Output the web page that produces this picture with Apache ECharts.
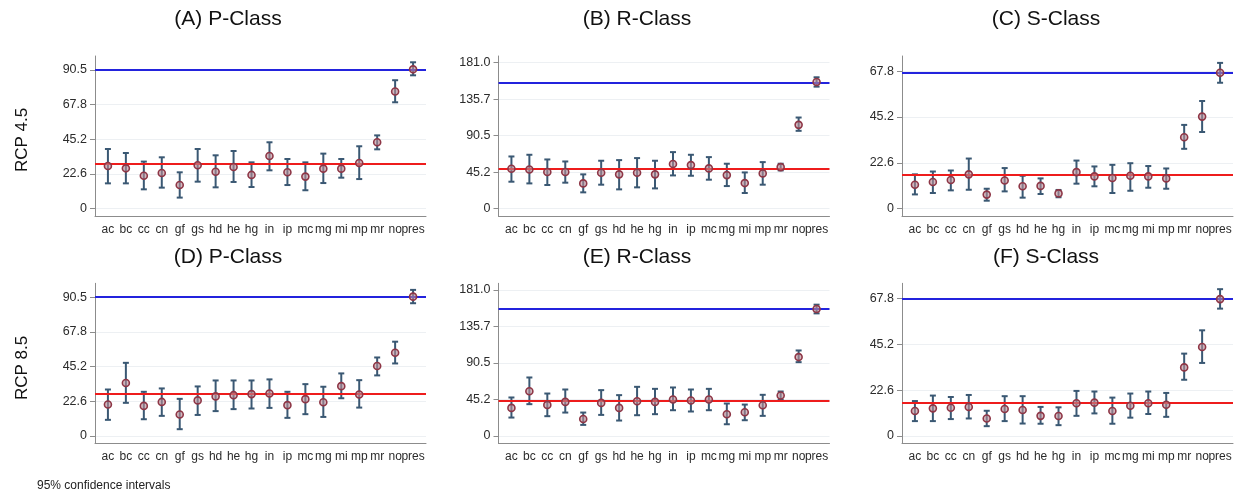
<!DOCTYPE html>
<html>
<head>
<meta charset="utf-8">
<script src="https://cdn.jsdelivr.net/npm/echarts@6/dist/echarts.min.js"></script>
<style>
  html, body { margin: 0; padding: 0; background: #ffffff; }
  #chart { width: 1241px; height: 493px; }
</style>
</head>
<body>
<div id="chart"></div>
<script>
// ---------------- DATA ----------------
const categories = ['ac','bc','cc','cn','gf','gs','hd','he','hg','in','ip','mc','mg','mi','mp','mr','no','pres'];

// Tick values / labels per class
const ticksP = [0, 22.6, 45.2, 67.8, 90.5];
const ticksR = [0, 45.2, 90.5, 135.7, 181.0];
const ticksS = [0, 22.6, 45.2, 67.8];

// (A) P-Class, RCP 4.5
const aMean = [27.8, 26.3, 21.5, 23.3, 15.4, 28.3, 24.1, 27.2, 22.0, 34.3, 23.7, 20.9, 26.1, 26.1, 29.8, 43.3, 76.4, 90.9];
const aLo   = [16.5, 16.5, 12.6, 13.7,  7.2, 17.6, 13.9, 17.4, 14.1, 25.0, 15.4, 12.0, 16.7, 20.2, 19.3, 38.7, 69.4, 87.0];
const aHi   = [38.9, 36.3, 30.7, 33.5, 23.7, 38.9, 34.8, 37.6, 30.2, 43.3, 32.4, 30.2, 35.9, 32.4, 40.7, 47.8, 83.8, 95.5];
const aRef  = [29.6, 90.5]; // red, blue

// (B) R-Class, RCP 4.5
const bMean = [49.5, 48.6, 45.4, 45.4, 31.3, 44.5, 42.5, 44.5, 42.5, 55.3, 54.0, 49.9, 41.6, 31.7, 43.7, 51.5, 103.9, 157.1];
const bLo   = [33.4, 31.3, 29.3, 32.2, 20.2, 29.7, 23.9, 26.4, 25.1, 41.2, 40.8, 35.9, 28.0, 19.4, 29.7, 47.4,  96.5, 151.3];
const bHi   = [64.7, 66.8, 61.0, 58.5, 42.5, 59.4, 60.2, 62.7, 59.4, 70.1, 66.8, 63.9, 55.7, 44.9, 57.7, 55.7, 113.0, 162.9];
const bRef  = [49.1, 156.5];

// (C) S-Class, RCP 4.5
const cMean = [11.8, 13.1, 14.1, 16.9, 6.9, 13.9, 11.0, 11.2, 7.5, 18.0, 15.9, 15.1, 16.2, 15.9, 14.9, 35.2, 45.4, 67.0];
const cLo   = [ 7.0,  7.7,  9.0,  9.3, 3.9,  8.5,  5.4,  7.2, 5.6, 12.3, 11.0,  7.7,  8.8, 10.3,  9.8, 29.5, 37.8, 62.1];
const cHi   = [16.9, 18.3, 18.8, 24.7, 9.8, 20.0, 16.2, 14.9, 9.2, 23.7, 20.8, 21.6, 22.4, 21.0, 19.8, 41.3, 53.1, 71.9];
const cRef  = [16.9, 67.0];

// (D) P-Class, RCP 8.5
const dMean = [20.5, 34.5, 19.6, 22.2, 14.0, 23.2, 25.8, 26.6, 27.3, 27.7, 20.1, 24.0, 22.0, 32.5, 27.0, 45.6, 54.3, 90.9];
const dLo   = [10.5, 21.6, 10.9, 13.1,  4.4, 13.7, 16.2, 17.5, 17.9, 18.3, 11.8, 14.2, 12.4, 24.6, 18.5, 39.5, 47.3, 86.6];
const dHi   = [30.3, 47.7, 28.8, 31.0, 24.2, 32.3, 36.2, 36.2, 36.2, 36.9, 28.8, 33.8, 32.1, 40.8, 36.4, 51.2, 61.5, 95.3];
const dRef  = [27.7, 90.9];

// (E) R-Class, RCP 8.5
const eMean = [34.8, 55.5, 38.5, 42.2, 21.1, 41.0, 34.8, 43.1, 42.2, 45.2, 44.0, 45.2, 26.9, 29.4, 38.1, 50.1,  97.8, 157.4];
const eLo   = [22.8, 39.4, 24.5, 29.0, 13.7, 26.1, 19.1, 25.7, 27.0, 31.9, 30.3, 31.9, 14.5, 19.5, 24.9, 44.7,  91.5, 152.0];
const eHi   = [47.7, 72.5, 52.6, 57.6, 29.0, 56.8, 50.6, 60.9, 58.4, 60.1, 57.6, 58.4, 40.2, 38.9, 51.0, 55.1, 106.0, 162.8];
const eRef  = [43.3, 157.4];

// (F) S-Class, RCP 8.5
const fMean = [12.3, 13.6, 13.9, 14.3,  8.6, 13.3, 12.8,  9.9,  9.8, 16.1, 16.4, 12.3, 14.9, 16.1, 15.4, 33.8, 43.9, 67.5];
const fLo   = [ 7.3,  7.3,  8.3,  8.6,  4.8,  7.3,  6.1,  6.0,  5.3,  9.9, 11.1,  6.0,  9.0, 10.8,  9.4, 27.7, 36.0, 62.8];
const fHi   = [17.2, 19.9, 19.2, 20.2, 12.4, 19.6, 19.6, 14.3, 14.1, 22.2, 21.9, 18.9, 20.9, 21.9, 21.2, 40.6, 52.1, 72.4];
const fRef  = [16.4, 67.5];

const titles = ['(A) P-Class', '(B) R-Class', '(C) S-Class', '(D) P-Class', '(E) R-Class', '(F) S-Class'];
const rowLabels = ['RCP 4.5', 'RCP 8.5'];
const note = '95% confidence intervals';

// ---------------- LAYOUT / STYLE ----------------
const FONT = '"Liberation Sans", Arial, Helvetica, sans-serif';
const colLeft = [95, 498.5, 902];
const rowTop = [56, 283.3];
const gridW = 331, gridH = 160.3;
const yRange = { P: [-5.0, 99.6], R: [-9.5, 189.3], S: [-3.8, 75.3] };
const panels = [
  { mean: aMean, lo: aLo, hi: aHi, ref: aRef, ticks: ticksP, cls: 'P' },
  { mean: bMean, lo: bLo, hi: bHi, ref: bRef, ticks: ticksR, cls: 'R' },
  { mean: cMean, lo: cLo, hi: cHi, ref: cRef, ticks: ticksS, cls: 'S' },
  { mean: dMean, lo: dLo, hi: dHi, ref: dRef, ticks: ticksP, cls: 'P' },
  { mean: eMean, lo: eLo, hi: eHi, ref: eRef, ticks: ticksR, cls: 'R' },
  { mean: fMean, lo: fLo, hi: fHi, ref: fRef, ticks: ticksS, cls: 'S' }
];
const titlePos = [[228, 19], [637, 19], [1046, 19], [228, 257], [637, 257], [1046, 257]];

const BAR_COLOR = '#3a5873';
const AXIS_COLOR = '#8c8c8c';
const LABEL_COLOR = '#2b2b2b';

// Even / odd category indices go on two overlaid x axes so that the
// tightly packed labels (e.g. "no" / "pres") are all kept.
const evenIdx = categories.map((c, i) => i).filter(i => i % 2 === 0);
const oddIdx  = categories.map((c, i) => i).filter(i => i % 2 === 1);
const grids = [], xAxes = [], yAxes = [], series = [], graphics = [];

function makeX(k, values, showLine) {
  return {
    type: 'value', gridIndex: k, position: 'bottom', offset: 0,
    min: -0.72, max: categories.length - 1 + 0.72,
    axisLine: { show: showLine, onZero: false, lineStyle: { color: AXIS_COLOR, width: 1 } },
    axisTick: { show: false },
    splitLine: { show: false },
    axisLabel: {
      customValues: values,
      formatter: v => categories[Math.round(v)],
      fontFamily: FONT, fontSize: 12, color: LABEL_COLOR, margin: 7,
      hideOverlap: false, showMinLabel: true, showMaxLabel: true
    }
  };
}

panels.forEach((p, k) => {
  const r = Math.floor(k / 3), c = k % 3;
  grids.push({ left: colLeft[c], top: rowTop[r], width: gridW, height: gridH });
  const xMain = xAxes.length;
  xAxes.push(makeX(k, evenIdx, true));
  xAxes.push(makeX(k, oddIdx, false));
  yAxes.push({
    type: 'value', gridIndex: k, min: yRange[p.cls][0], max: yRange[p.cls][1],
    axisLine: { show: true, onZero: false, lineStyle: { color: AXIS_COLOR, width: 1 } },
    axisTick: { show: true, customValues: p.ticks, length: 5, lineStyle: { color: AXIS_COLOR } },
    splitLine: { show: true, lineStyle: { color: '#edf0f3', width: 1 } },
    axisLabel: {
      customValues: p.ticks,
      formatter: v => (v === 0 ? '0' : v.toFixed(1)),
      fontFamily: FONT, fontSize: 12.5, color: LABEL_COLOR, margin: 8,
      showMinLabel: true, showMaxLabel: true
    }
  });
  const barData = categories.map((cat, i) => [i, p.lo[i], p.hi[i]]);
  series.push({
    type: 'custom', xAxisIndex: xMain, yAxisIndex: k, z: 3, silent: true,
    data: barData,
    encode: { x: 0, y: [1, 2] },
    renderItem: (params, api) => {
      const x = api.value(0), lo = api.value(1), hi = api.value(2);
      const pLo = api.coord([x, lo]), pHi = api.coord([x, hi]);
      const cw = 3;
      const st = { stroke: BAR_COLOR, lineWidth: 2 };
      return { type: 'group', children: [
        { type: 'line', shape: { x1: pLo[0], y1: pLo[1], x2: pHi[0], y2: pHi[1] }, style: st },
        { type: 'line', shape: { x1: pLo[0] - cw, y1: pLo[1], x2: pLo[0] + cw, y2: pLo[1] }, style: st },
        { type: 'line', shape: { x1: pHi[0] - cw, y1: pHi[1], x2: pHi[0] + cw, y2: pHi[1] }, style: st }
      ]};
    }
  });
  series.push({
    type: 'scatter', xAxisIndex: xMain, yAxisIndex: k, z: 5, silent: true,
    symbol: 'circle', symbolSize: 7,
    itemStyle: { color: 'rgba(185,140,150,0.6)', borderColor: '#8e3646', borderWidth: 1.6, opacity: 1 },
    data: categories.map((cat, i) => [i, p.mean[i]]),
    markLine: {
      silent: true, symbol: 'none', animation: false, z: 4,
      label: { show: false },
      data: [
        { yAxis: p.ref[0], lineStyle: { color: '#ee1c1c', width: 2, type: 'solid' } },
        { yAxis: p.ref[1], lineStyle: { color: '#2323dd', width: 2, type: 'solid' } }
      ]
    }
  });
  graphics.push({
    type: 'text', x: titlePos[k][0], y: titlePos[k][1], silent: true,
    style: { text: titles[k], font: '21px ' + FONT, fill: '#111', align: 'center', verticalAlign: 'middle' }
  });
});

graphics.push({
  type: 'text', x: 22, y: 140, rotation: Math.PI / 2, silent: true,
  style: { text: rowLabels[0], font: '17px ' + FONT, fill: '#111', align: 'center', verticalAlign: 'middle' }
});
graphics.push({
  type: 'text', x: 22, y: 368, rotation: Math.PI / 2, silent: true,
  style: { text: rowLabels[1], font: '17px ' + FONT, fill: '#111', align: 'center', verticalAlign: 'middle' }
});
graphics.push({
  type: 'text', x: 37, y: 486, silent: true,
  style: { text: note, font: '12px ' + FONT, fill: '#222', align: 'left', verticalAlign: 'middle' }
});

const chart = echarts.init(document.getElementById('chart'), null, { renderer: 'canvas' });
chart.setOption({
  animation: false,
  backgroundColor: '#ffffff',
  grid: grids,
  xAxis: xAxes,
  yAxis: yAxes,
  series: series,
  graphic: graphics
});
</script>
</body>
</html>
